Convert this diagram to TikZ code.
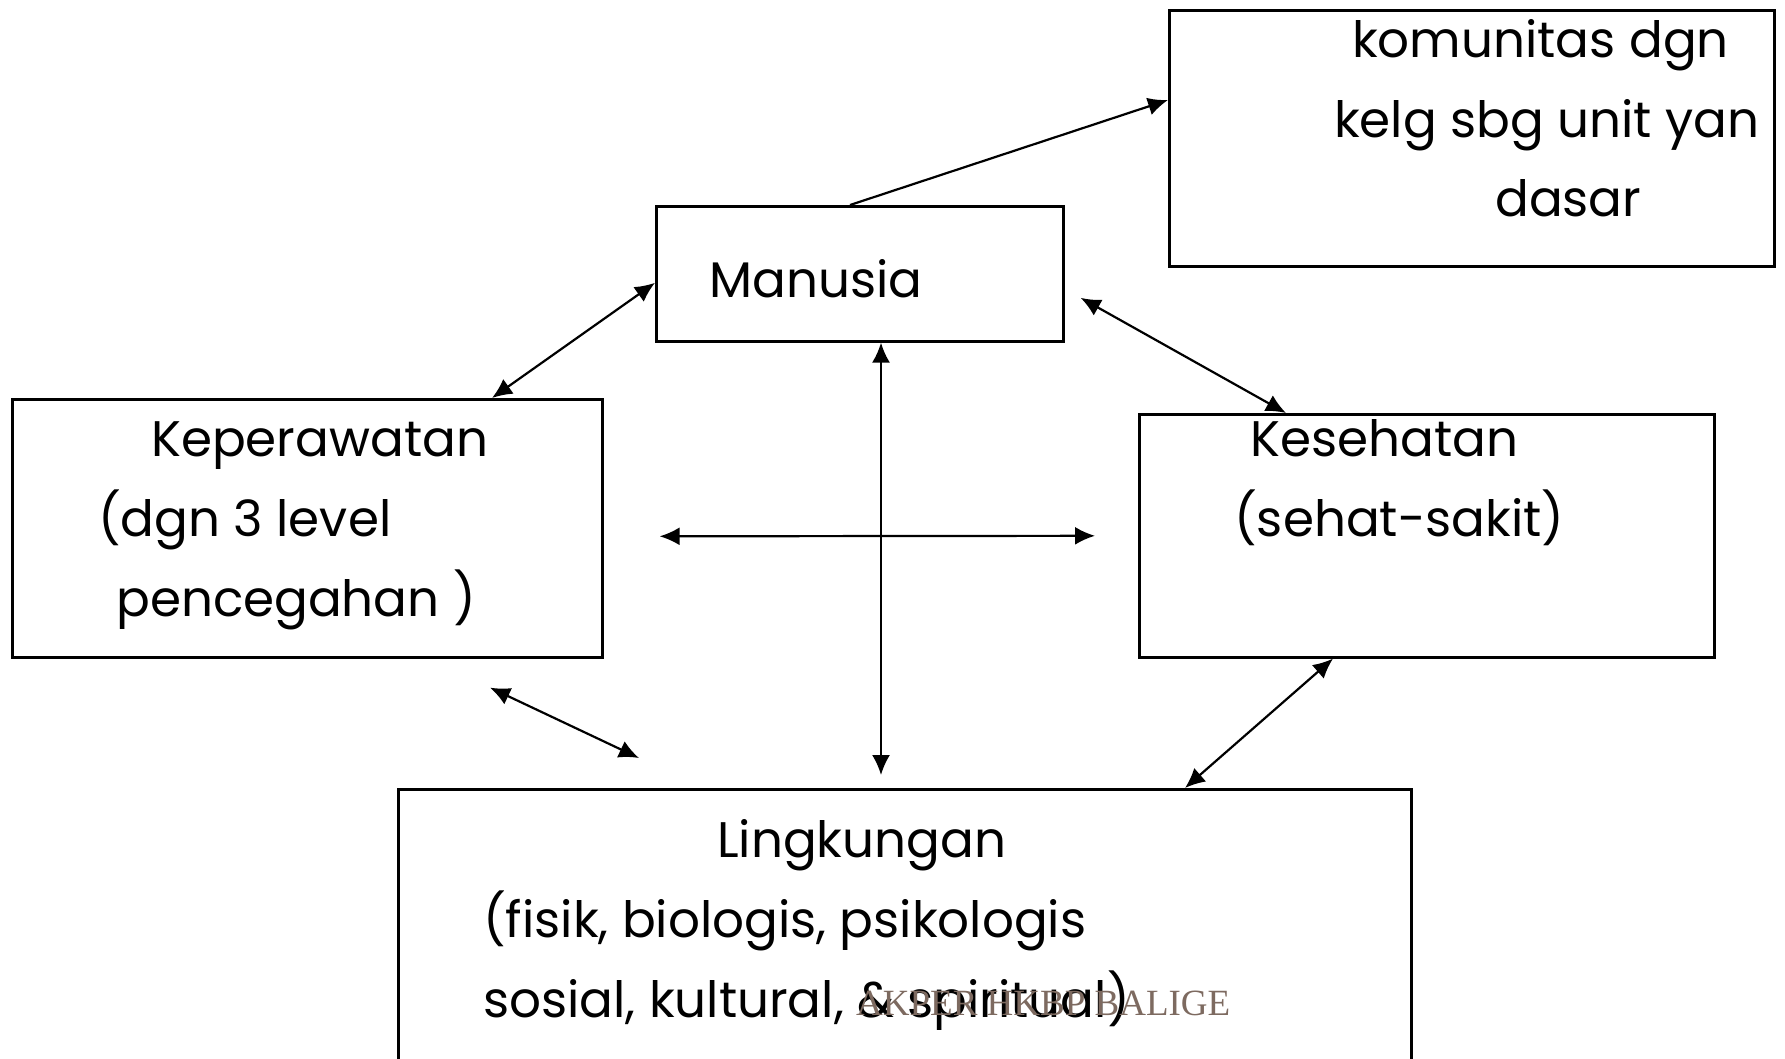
\documentclass[tikz,border=0pt]{standalone}
\usepackage{fontspec}
\setmainfont{Poppins}
\newfontfamily\wmfont{Liberation Serif}
\usetikzlibrary{positioning,arrows.meta}
\definecolor{wmbrown}{RGB}{125,106,96}

\tikzset{
  box/.style={draw, line width=2.6pt, inner sep=0pt, anchor=north west},
  txt/.style={anchor=base west, inner sep=0pt, font=\fontsize{50}{60}\selectfont},
  link/.style={line width=2.2pt, {Latex[length=20pt,width=18pt]}-{Latex[length=20pt,width=18pt]}},
}

\begin{document}
\begin{tikzpicture}[x=1pt,y=-1pt]
  \useasboundingbox (0,0) rectangle (1785,1058);

  % boxes
  \node[box, minimum width=605pt, minimum height=256pt] (kom) at (1168,9) {};
  \node[box, minimum width=407pt, minimum height=135pt] (man) at (655,205) {};
  \node[box, minimum width=590pt, minimum height=258pt] (kep) at (11,398) {};
  \node[box, minimum width=575pt, minimum height=243pt] (kes) at (1138,413) {};
  \node[box, minimum width=1013pt, minimum height=320pt] (ling) at (397,788) {};

  % texts
  \node[txt] (kom1) at (1352,57) {komunitas dgn};
  \node[txt] (kom2) at (1334,137) {kelg sbg unit yan};
  \node[txt] (kom3) at (1495,216) {dasar};
  \node[txt] (man1) at (709,297) {Manusia};
  \node[txt] (kep1) at (151,456) {Keperawatan};
  \node[txt] (kep2) at (98,536) {(dgn 3 level};
  \node[txt] (kep3) at (116,616) {pencegahan )};
  \node[txt] (kes1) at (1250,456) {Kesehatan};
  \node[txt] (kes2) at (1234,536) {(sehat-sakit)};
  \node[txt] (ling1) at (717,857) {Lingkungan};
  \node[txt] (ling2) at (483,937) {(fisik, biologis, psikologis};
  \node[txt] (ling3) at (483,1017) {sosial, kultural, \& spiritual)};
  \node[anchor=base west, inner sep=0pt, text=wmbrown,
        font=\wmfont\fontsize{37}{44}\selectfont] (wm) at (856,1015) {AKPER HKBP BALIGE};

  % connectors
  \draw[line width=2.2pt, -{Latex[length=20pt,width=18pt]}]
    ([xshift=195pt]man.north west) -- ([yshift=-91pt]kom.north west);
  \draw[link] ([yshift=-9pt]man.west) -- ([xshift=481pt]kep.north west);
  \draw[link] ([xshift=16pt,yshift=-24pt]man.east) -- ([xshift=148pt]kes.north west);
  \draw[link] ([xshift=226pt]man.south west) -- ([xshift=484pt,yshift=13pt]ling.north west);
  \draw[link] ([xshift=56pt,yshift=-8pt]kep.east) -- ([xshift=-43pt]kes.west);
  \draw[link] ([xshift=479pt,yshift=-29pt]kep.south west) -- ([xshift=242pt,yshift=30pt]ling.north west);
  \draw[link] ([xshift=195pt]kes.south west) -- ([xshift=788pt]ling.north west);
\end{tikzpicture}
\end{document}
